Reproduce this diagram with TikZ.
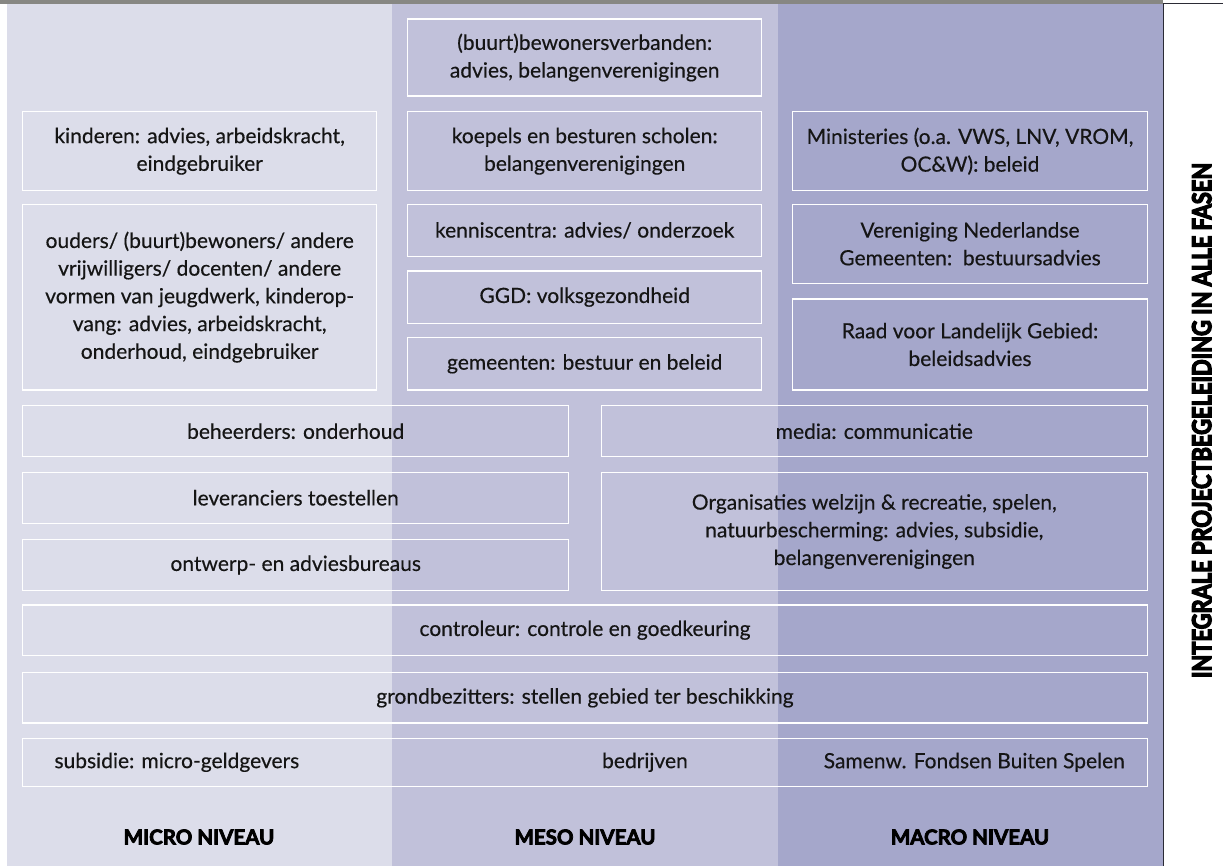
\documentclass[tikz,border=0pt]{standalone}
\usepackage{fontspec}
\setmainfont{Lato}[FakeBold=0.35]
\newfontfamily\heavy{Lato}[BoldFeatures={FakeBold=3.8}]
\newfontfamily\heavier{Lato}[BoldFeatures={FakeBold=5.5}]
\definecolor{microc}{HTML}{DCDDEA}
\definecolor{mesoc}{HTML}{C1C1DA}
\definecolor{macroc}{HTML}{A5A7CB}
\definecolor{barc}{HTML}{878783}
\definecolor{linec}{HTML}{2B2B35}
\definecolor{txtc}{HTML}{151515}
\newcommand\bodyfont{\fontsize{21}{27.7}\selectfont}
\tikzset{
  box/.style={draw=white, line width=1.2pt, inner sep=0pt, text=txtc, align=center, font=\bodyfont},
  lbl/.style={inner sep=0pt, text=txtc, font=\bodyfont},
  lvl/.style={inner sep=0pt, text=black, font=\heavy\bfseries\fontsize{20.5}{24}\selectfont},
}
\newcommand\mybox[6]{%
  \node[box, minimum width={(#4-#2)*1pt}, minimum height={(#5-#3)*1pt}] (#1) at ({(#2+#4)/2},{(#3+#5)/2}) {#6};}
\begin{document}
\begin{tikzpicture}[x=1pt,y=-1pt]
\useasboundingbox (0,0) rectangle (1223,866);
\fill[white] (0,0) rectangle (1223,866);
% panels
\fill[microc] (6.7,4) rectangle (392.3,866);
\fill[mesoc] (392.3,4) rectangle (777.7,866);
\fill[macroc] (777.7,4) rectangle (1162.7,866);
\fill[barc] (0,0) rectangle (1162.7,4);
\draw[linec, line width=1.5pt] (1223,3.6) -- (1163.4,3.6) -- (1163.4,866);
% boxes
\mybox{buurt}{407.7}{19}{761.7}{96}{(buurt)bewonersverbanden:\\advies, belangenverenigingen}
\mybox{kind}{22.7}{111.7}{376.7}{190.7}{kinderen: advies, arbeidskracht,\\eindgebruiker}
\mybox{koepel}{407.7}{111.7}{761.7}{190.7}{koepels en besturen scholen:\\belangenverenigingen}
\mybox{minis}{792.7}{111.7}{1147.3}{190.7}{Ministeries (o.a. VWS, LNV, VROM,\\OC\&W): beleid}
\mybox{ouders}{22.7}{204.3}{376.7}{390}{ouders/ (buurt)bewoners/ andere\\vrijwilligers/ docenten/ andere\\vormen van jeugdwerk, kinderop-\\vang: advies, arbeidskracht,\\onderhoud, eindgebruiker}
\mybox{kennis}{407.7}{204.3}{761.7}{256.3}{kenniscentra: advies/ onderzoek}
\mybox{vng}{792.7}{204.3}{1147.3}{283.3}{Vereniging Nederlandse\\Gemeenten:\ \ bestuursadvies}
\mybox{ggd}{407.7}{271}{761.7}{323.3}{GGD: volksgezondheid}
\mybox{raad}{792.7}{299}{1147.3}{390}{Raad voor Landelijk Gebied:\\beleidsadvies}
\mybox{gem}{407.7}{337.7}{761.7}{390}{gemeenten: bestuur en beleid}
\mybox{beheer}{22.7}{405.7}{568.7}{456.7}{beheerders: onderhoud}
\mybox{media}{601.3}{405.7}{1147.3}{456.7}{media: communicatie}
\mybox{lever}{22.7}{472.3}{568.7}{523.3}{leveranciers toestellen}
\mybox{org}{601.3}{472.3}{1147.3}{590.7}{Organisaties welzijn \& recreatie, spelen,\\natuurbescherming: advies, subsidie,\\belangenverenigingen}
\mybox{ontw}{22.7}{539.3}{568.7}{590.7}{ontwerp- en adviesbureaus}
\mybox{contr}{22.7}{605}{1147.3}{655.3}{controleur: controle en goedkeuring}
\mybox{grond}{22.7}{672.7}{1147.3}{723}{grondbezitters: stellen gebied ter beschikking}
\mybox{geld}{22.7}{738.3}{1147.3}{786.3}{}
\node[lbl, anchor=west] (subs) at (54.3,762.3) {subsidie: micro-geldgevers};
\node[lbl, anchor=east] (bedr) at (688,762.3) {bedrijven};
\node[lbl, anchor=east] (samen) at (1125,762.3) {Samenw. Fondsen Buiten Spelen};
% level labels
\node[lvl] (micro) at (199,837) {MICRO NIVEAU};
\node[lvl] (meso) at (585,837) {MESO NIVEAU};
\node[lvl] (macro) at (970,837) {MACRO NIVEAU};
\node[rotate=90, inner sep=0pt] (integ) at (1201.7,420.5) {\resizebox{515pt}{19pt}{\heavier\bfseries INTEGRALE PROJECTBEGELEIDING IN ALLE FASEN}};
\end{tikzpicture}
\end{document}
